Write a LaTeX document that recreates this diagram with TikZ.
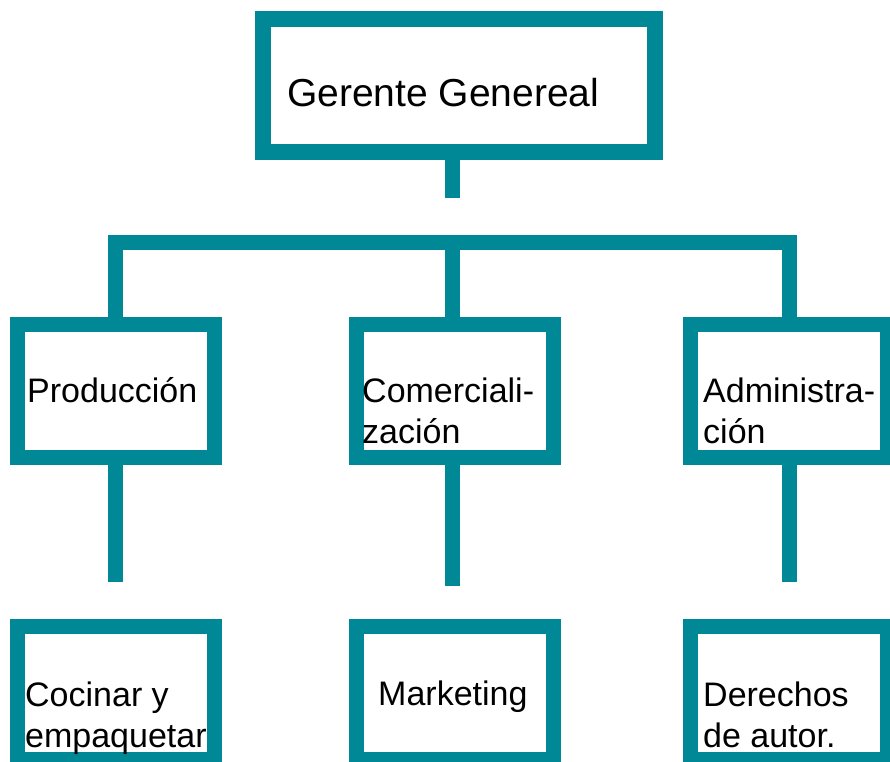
\documentclass[tikz,border=0pt]{standalone}
\usepackage{fontspec}
\setmainfont{Liberation Sans}
\definecolor{teal1}{RGB}{0,136,150}
\begin{document}
\begin{tikzpicture}[x=1pt,y=1pt,
  box/.style={draw=teal1,line width=15pt,inner sep=0pt,outer sep=0pt,
    minimum width=197pt,minimum height=133pt,fill=white},
  topbox/.style={box,line width=16pt,minimum width=392pt,minimum height=133pt},
  conn/.style={draw=teal1,line width=15pt,line cap=butt},
  lbl/.style={anchor=base west,inner sep=0pt,align=left,text=black,
    font=\fontsize{34}{41}\selectfont},
  toplbl/.style={lbl,font=\fontsize{39}{48}\selectfont}]
\useasboundingbox (0,0) rectangle (890,-761);
\clip (0,0) rectangle (890,-761);
\fill[white] (0,0) rectangle (890,-761);
% boxes
\node[topbox] (gg) at (459,-85.5) {};
\node[box] (prod) at (115.75,-391) {};
\node[box] (com) at (454.75,-391) {};
\node[box] (adm) at (788.5,-391) {};
\node[box] (coc) at (115.75,-693) {};
\node[box] (mkt) at (454.75,-693) {};
\node[box] (der) at (788.5,-693) {};
% connector coordinates
\coordinate (ggend) at (452,-198);
\coordinate (busL) at (115.5,-242.5);
\coordinate (busM) at (452,-242.5);
\coordinate (busR) at (789.5,-242.5);
\coordinate (pe) at (115.5,-582);
\coordinate (ce) at (452,-586);
\coordinate (ae) at (789.5,-582);
% connectors
\draw[conn] (gg.south -| ggend) -- (ggend);
\draw[conn,line join=miter] (prod.north -| busL) -- (busL) -- (busR) -- (adm.north -| busR);
\draw[conn] (busM) -- (com.north -| busM);
\draw[conn] (prod.south -| pe) -- (pe);
\draw[conn] (com.south -| ce) -- (ce);
\draw[conn] (adm.south -| ae) -- (ae);
% labels (multi-line: base = last line)
\node[toplbl] (tgg) at (287,-106) {Gerente Genereal};
\node[lbl] (tprod) at (27,-402) {Producción};
\node[lbl] (tcom) at (362,-443) {Comerciali-\\zación};
\node[lbl] (tadm) at (703,-443) {Administra-\\ción};
\node[lbl] (tcoc) at (25,-747) {Cocinar y\\empaquetar};
\node[lbl] (tmkt) at (378,-705) {Marketing};
\node[lbl] (tder) at (703,-747) {Derechos\\de autor.};
\end{tikzpicture}
\end{document}
